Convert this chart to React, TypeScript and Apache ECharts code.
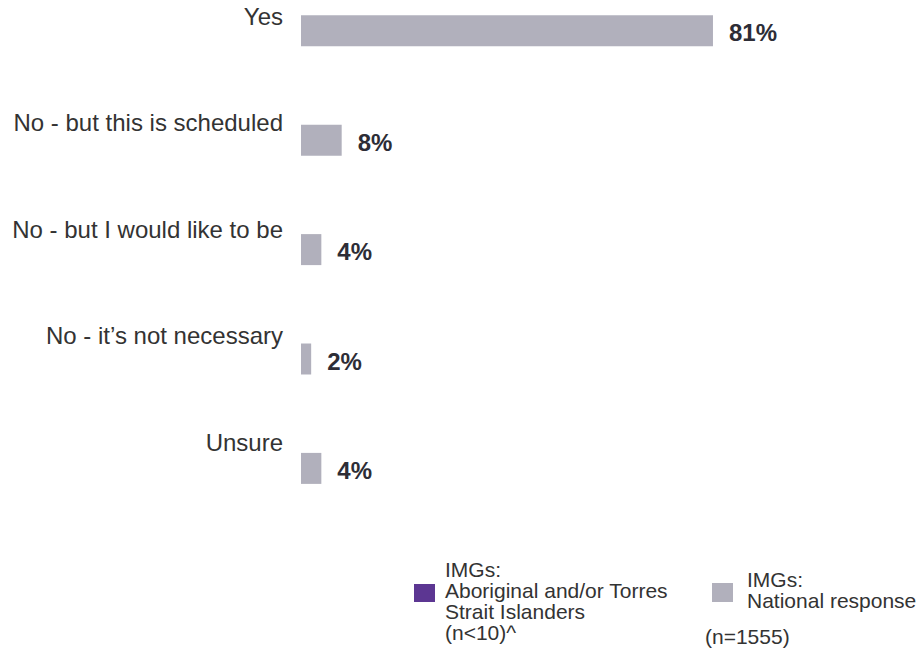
import React, { useEffect, useRef } from "react";
import * as echarts from "echarts";

const categories = [
  "Yes",
  "No - but this is scheduled",
  "No - but I would like to be",
  "No - it\u2019s not necessary",
  "Unsure",
];
const aboriginalValues: (number | null)[] = [null, null, null, null, null];
const nationalValues = [81, 8, 4, 2, 4];

const seriesNames = ["IMGs: Aboriginal and/or Torres Strait Islanders", "IMGs: National response"];
const legendTexts = [
  "IMGs:\nAboriginal and/or Torres\nStrait Islanders\n(n<10)^",
  "IMGs:\nNational response",
];
const sampleNote = "(n=1555)";

const PURPLE = "#5c3692";
const GREY = "#b1b0bc";
const TEXT = "#333333";
const FONT = "'Liberation Sans', Arial, Helvetica, sans-serif";

export default function App() {
  const ref = useRef<HTMLDivElement>(null);

  useEffect(() => {
    if (!ref.current) return;
    const chart = echarts.init(ref.current, undefined, { renderer: "svg" });
    chart.setOption({
      animation: false,
      backgroundColor: "#ffffff",
      textStyle: { fontFamily: FONT },
      grid: [
        { left: 301, top: 30.8, width: 508.6, height: 437.6 },
        { left: 301, top: 16.4, width: 508.6, height: 426 },
      ],
      xAxis: [
        { type: "value", gridIndex: 0, min: 0, max: 100, show: false, splitLine: { show: false } },
        { type: "value", gridIndex: 1, min: 0, max: 100, show: false, splitLine: { show: false } },
      ],
      yAxis: [
        {
          type: "category",
          gridIndex: 0,
          inverse: true,
          boundaryGap: false,
          data: categories,
          axisLine: { show: false },
          axisTick: { show: false },
          axisLabel: { show: false },
        },
        {
          type: "category",
          gridIndex: 1,
          inverse: true,
          boundaryGap: false,
          data: categories,
          axisLine: { show: false },
          axisTick: { show: false },
          axisLabel: {
            show: true,
            interval: 0,
            margin: 18,
            fontSize: 24,
            color: TEXT,
            fontFamily: FONT,
            align: "right",
          },
        },
      ],
      series: [
        {
          name: seriesNames[0],
          type: "bar",
          xAxisIndex: 0,
          yAxisIndex: 0,
          data: aboriginalValues,
          barWidth: 31,
          barGap: "-100%",
          clip: false,
          itemStyle: { color: PURPLE },
        },
        {
          name: seriesNames[1],
          type: "bar",
          xAxisIndex: 0,
          yAxisIndex: 0,
          data: nationalValues,
          barWidth: 31,
          barGap: "-100%",
          clip: false,
          itemStyle: { color: GREY },
          label: {
            show: true,
            position: "right",
            distance: 16,
            offset: [0, 2],
            formatter: "{c}%",
            fontSize: 24,
            fontWeight: "bold",
            color: "#2d2d36",
            fontFamily: FONT,
          },
        },
      ],
      graphic: [
        {
          type: "rect",
          shape: { x: 414, y: 584, width: 21, height: 18 },
          style: { fill: PURPLE },
        },
        {
          type: "text",
          x: 445,
          y: 601,
          style: {
            text: legendTexts[0],
            fontSize: 21,
            lineHeight: 21.3,
            fontFamily: FONT,
            fill: TEXT,
            verticalAlign: "middle",
            align: "left",
          },
        },
        {
          type: "rect",
          shape: { x: 712, y: 583, width: 21, height: 19 },
          style: { fill: GREY },
        },
        {
          type: "text",
          x: 747,
          y: 590,
          style: {
            text: legendTexts[1],
            fontSize: 21,
            lineHeight: 21.3,
            fontFamily: FONT,
            fill: TEXT,
            verticalAlign: "middle",
            align: "left",
          },
        },
        {
          type: "text",
          x: 705,
          y: 636.5,
          style: {
            text: sampleNote,
            fontSize: 21,
            lineHeight: 21.3,
            fontFamily: FONT,
            fill: TEXT,
            verticalAlign: "middle",
            align: "left",
          },
        },
      ],
    });
    return () => chart.dispose();
  }, []);

  return (
    <div
      ref={ref}
      style={{ position: "fixed", left: 0, top: 0, width: 920, height: 651 }}
    />
  );
}
